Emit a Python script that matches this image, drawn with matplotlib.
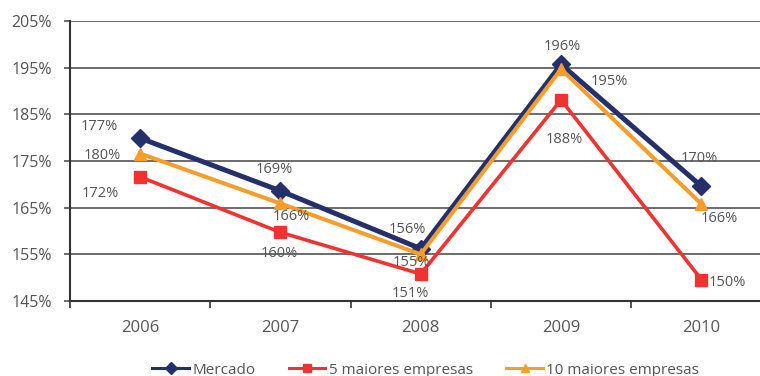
import matplotlib
matplotlib.use("Agg")
import matplotlib.pyplot as plt
from matplotlib.lines import Line2D

plt.rcParams['font.family'] = ['Open Sans', 'DejaVu Sans']

# dados
anos = ["2006", "2007", "2008", "2009", "2010"]
mercado = [179.9, 168.6, 156.2, 195.7, 169.6]
maiores5 = [171.6, 159.7, 150.8, 188.1, 149.6]
maiores10 = [176.6, 165.9, 155.0, 194.7, 165.8]

# deslocamento dos rotulos (pixels) para cada ponto
off_mercado = [(-38, -17), (-6, 21), (-13, 19), (1, 18), (-2, 28)]
off_5 = [(-40, -17), (-1, -21), (-10, -20), (3, -40), (26, -3)]
off_10 = [(-41, 27), (11, -13), (-9, -8), (48, -12), (18, -15)]

c_merc = "#24306b"
c_5 = "#ee3330"
c_10 = "#f89d2c"
txt = "#555555"

fig = plt.figure(figsize=(7.6, 3.76), dpi=100)
ax = fig.add_axes([70/760, 75/376, 690/760, 280/376])

x = list(range(len(anos)))
series = [
    (mercado, c_merc, "D", 9, 3.6, off_mercado, "Mercado"),
    (maiores5, c_5, "s", 8, 2.6, off_5, "5 maiores empresas"),
    (maiores10, c_10, "^", 8, 2.9, off_10, "10 maiores empresas"),
]
for vals, cor, mk, ms, lw, offs, nome in series:
    ax.plot(x, vals, color=cor, marker=mk, markersize=ms, lw=lw, zorder=3)
    for xi, v, o in zip(x, vals, offs):
        ax.annotate(f"{v:.0f}%", (xi, v), xytext=o, textcoords="offset pixels",
                    ha="center", va="center", fontsize=10.5, color=txt, zorder=4)

ax.set_ylim(145, 205)
ax.set_xlim(-0.5, -0.5 + 690/140.3)
ax.set_yticks([145, 155, 165, 175, 185, 195, 205])
ax.set_yticklabels([f"{t}%" for t in [145, 155, 165, 175, 185, 195, 205]])
ax.yaxis.grid(True, color="#444444", lw=1.1)
ax.set_axisbelow(True)

ax.set_xticks([-0.5, 0.5, 1.5, 2.5, 3.5])
ax.set_xticklabels([])
ax.set_xticks(x, minor=True)
ax.set_xticklabels(anos, minor=True)
ax.tick_params(axis="x", which="major", length=5, width=1.2, color="#333333")
ax.tick_params(axis="x", which="minor", length=0, pad=14, labelsize=12, labelcolor=txt)
ax.tick_params(axis="y", length=4, width=1.1, color="#444444", pad=9, labelsize=11.5, labelcolor=txt)

for s in ["top", "right"]:
    ax.spines[s].set_visible(False)
ax.spines["left"].set_color("#333333")
ax.spines["left"].set_linewidth(1.5)
ax.spines["bottom"].set_color("#333333")
ax.spines["bottom"].set_linewidth(1.5)

handles = [Line2D([], [], color=c, marker=m, markersize=6, lw=2.2)
           for c, m in [(c_merc, "D"), (c_5, "s"), (c_10, "^")]]
fig.legend(handles, ["Mercado", "5 maiores empresas", "10 maiores empresas"],
           loc="center", bbox_to_anchor=(0.56, 1 - 370/376), ncol=3, frameon=False,
           fontsize=11, labelcolor=txt, handlelength=2.4, handletextpad=0.2,
           columnspacing=2.2, borderaxespad=0)

fig.savefig("out.png", dpi=100)
